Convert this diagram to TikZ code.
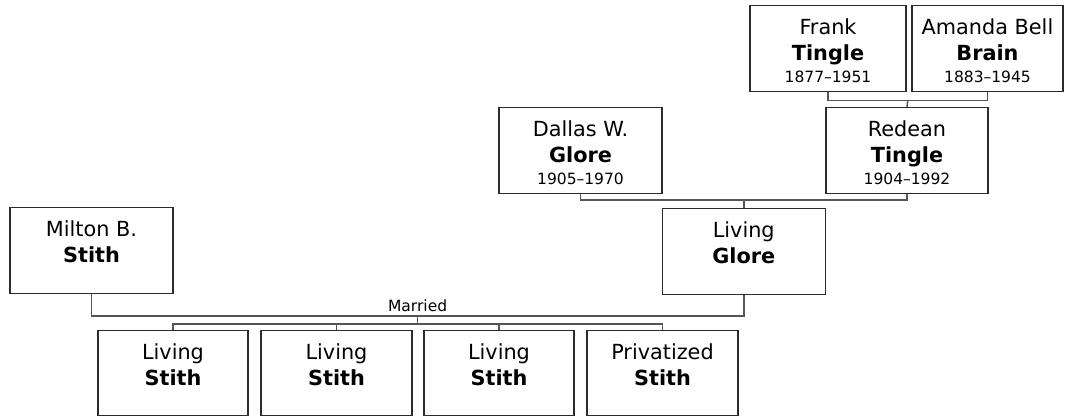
\documentclass[tikz,border=0pt]{standalone}
\usepackage{fontspec}
\setmainfont{DejaVu Sans}
\usetikzlibrary{calc}
\definecolor{boxc}{HTML}{2B2B2B}
\definecolor{linec}{HTML}{555555}
\newcommand\namefont{\fontsize{20.8}{25}\selectfont}
\newcommand\smallfont{\fontsize{15.5}{19}\selectfont}
% #1 name, #2 center x, #3 top y, #4 width, #5 height, #6 given, #7 surname
\newcommand\personcard[7]{%
  \node[pbox, minimum width=#4pt, minimum height=#5pt, anchor=north] (#1) at (#2,#3) {};
  \node[given] (#1-given) at ([yshift=-29.5pt]#1.north) {#6};
  \node[surname] (#1-surname) at ([yshift=-55pt]#1.north) {#7};
}
\newcommand\persondates[2]{%
  \node[dates] (#1-dates) at ([yshift=-77.5pt]#1.north) {#2};
}
\tikzset{
  pbox/.style={draw=boxc, line width=1.4pt, fill=white, inner sep=0pt, rectangle},
  conn/.style={draw=linec, line width=1.5pt},
  given/.style={font=\namefont, anchor=base, inner sep=0pt, text=black},
  surname/.style={font=\namefont\bfseries, anchor=base, inner sep=0pt, text=black},
  dates/.style={font=\smallfont, anchor=base, inner sep=0pt, text=black},
}
\begin{document}
\begin{tikzpicture}[x=1pt,y=-1pt]
\useasboundingbox[fill=white] (0,0) rectangle (1068,416);

% grandparents
\personcard{frank}{828}{5}{156}{86}{Frank}{Tingle}
\persondates{frank}{1877–1951}
\personcard{amanda}{987.5}{5}{151}{86}{Amanda Bell}{Brain}
\persondates{amanda}{1883–1945}

% parents generation
\personcard{dallas}{580.5}{107}{163}{86}{Dallas W.}{Glore}
\persondates{dallas}{1905–1970}
\personcard{redean}{907}{107}{162}{86}{Redean}{Tingle}
\persondates{redean}{1904–1992}

% couple
\personcard{milton}{91.5}{207}{163}{86}{Milton B.}{Stith}
\personcard{glore}{743.75}{208}{163}{86}{Living}{Glore}

% children
\personcard{kida}{173}{330}{150}{85}{Living}{Stith}
\personcard{kidb}{336.5}{330}{151}{85}{Living}{Stith}
\personcard{kidc}{499}{330}{150}{85}{Living}{Stith}
\personcard{kidd}{662.5}{330}{151}{85}{Privatized}{Stith}

% connectors
\coordinate (fajoin) at ($(frank.south)!0.5!(amanda.south)+(0,8)$);
\draw[conn] (frank.south) |- (fajoin) -| (amanda.south);
\draw[conn] (fajoin) -- (redean.north);

\coordinate (drjoin) at (glore.north |- 0,200);
\draw[conn] (dallas.south) |- (drjoin) -| (redean.south);
\draw[conn] (drjoin) -- (glore.north);

\coordinate (mjoin) at ($(milton.south)!0.5!(glore.south)+(0,21)$);
\draw[conn] (milton.south) |- (mjoin) -| (glore.south);
\node[dates] (married) at ($(mjoin)+(0,-4)$) {Married};
\coordinate (kidsbar) at ($(mjoin)+(0,8)$);
\draw[conn] (mjoin) -- (kidsbar);
\draw[conn] (kida.north) |- (kidsbar) -| (kidd.north);
\draw[conn] (kidb.north) -- (kidb.north |- kidsbar);
\draw[conn] (kidc.north) -- (kidc.north |- kidsbar);
\end{tikzpicture}
\end{document}
